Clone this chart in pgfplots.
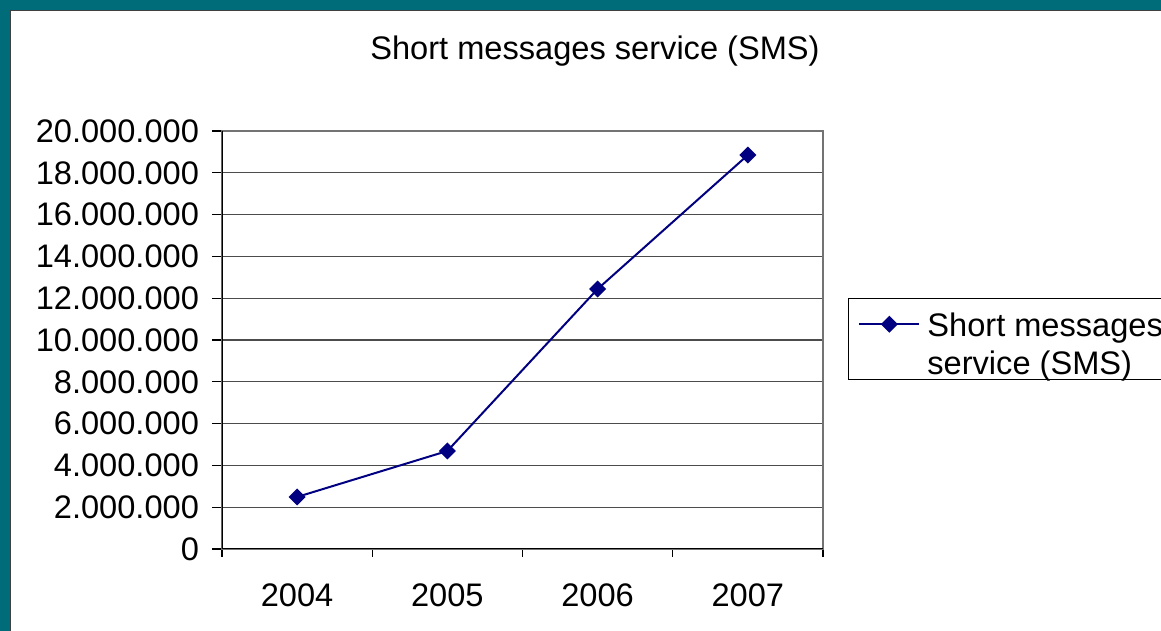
\documentclass[border=0pt]{standalone}
\usepackage{pgfplots}
\pgfplotsset{compat=1.18}
\usepackage{fontspec}
\setmainfont{Liberation Sans}
\definecolor{frameteal}{HTML}{006B79}
\definecolor{sms}{HTML}{000080}
\newcommand{\chartfont}{\fontsize{16.3}{19}\selectfont}
\begin{document}
\begin{tikzpicture}[font=\chartfont]
\useasboundingbox (0,0) rectangle (580.5pt,315.5pt);
\clip (0,0) rectangle (580.5pt,315.5pt);
\fill[frameteal] (0,0) rectangle (580.5pt,315.5pt);
\fill[white] (5pt,-1pt) rectangle (582pt,310.5pt);
\draw[black!75,line width=0.6pt] (5.3pt,-1pt) -- (5.3pt,310.2pt) -- (582pt,310.2pt);
\node[font=\chartfont] at (297.5pt,290pt) {Short messages service (SMS)};
% legend frame (the chart's legend runs off the right edge)
\draw[black, line width=0.5pt] (424pt,166pt) rectangle (600pt,125.5pt);
\begin{axis}[
  at={(111pt,41pt)}, anchor=south west,
  scale only axis, width=300.5pt, height=209pt,
  xmin=-0.5, xmax=3.5, ymin=0, ymax=20000000,
  xtick={0,1,2,3}, xticklabels={2004,2005,2006,2007},
  minor xtick={-0.5,0.5,1.5,2.5,3.5},
  major x tick style={draw=none},
  minor tick length=4pt,
  ytick={0,2000000,4000000,6000000,8000000,10000000,12000000,14000000,16000000,18000000,20000000},
  yticklabels={0,2.000.000,4.000.000,6.000.000,8.000.000,10.000.000,12.000.000,14.000.000,16.000.000,18.000.000,20.000.000},
  scaled y ticks=false,
  tick align=outside, major tick length=5pt,
  tick style={black, line width=0.6pt},
  xtick pos=bottom, ytick pos=left,
  ymajorgrids, grid style={black!70, line width=0.6pt},
  axis line style={black!55, line width=0.6pt},
  tick label style={font=\chartfont},
  xticklabel style={yshift=-9pt},
  yticklabel style={xshift=-3pt},
  legend style={at={(rel axis cs:1.0416,0.598)}, anchor=north west,
    draw=none, fill=none, font=\chartfont, inner xsep=5pt, inner ysep=3pt,
    cells={anchor=west}},
  legend image code/.code={\draw[mark repeat=2,mark phase=2,#1] plot coordinates {(0pt,0pt)(15pt,0pt)(30pt,0pt)};},
]
\addplot[sms, line width=1pt, mark=square*, mark size=2.5pt, mark options={rotate=45, fill=sms, draw=sms}]
  coordinates {(0,2490000) (1,4690000) (2,12440000) (3,18850000)};
\addlegendentry{\hspace{1.5pt}\begin{tabular}[t]{@{}l@{}}Short messages\\service (SMS)\end{tabular}}
\draw[black, line width=0.7pt] (rel axis cs:0,1) -- (rel axis cs:0,0) -- (rel axis cs:1,0);
\end{axis}
\end{tikzpicture}
\end{document}
